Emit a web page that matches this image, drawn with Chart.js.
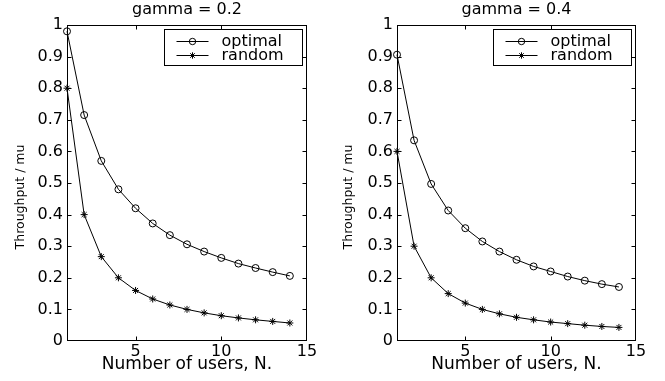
<!DOCTYPE html>
<html><head><meta charset="utf-8">
<script src="https://cdn.jsdelivr.net/npm/chart.js@4"></script>
<style>
html,body{margin:0;padding:0;background:#fff;}
#wrap{position:relative;width:665px;height:381px;overflow:hidden;background:#fff;}
#c1{position:absolute;left:0;top:0;}
#c2{position:absolute;left:335px;top:0;}
</style></head><body>
<div id="wrap"><canvas id="c1" width="335" height="381"></canvas><canvas id="c2" width="330" height="381"></canvas></div>
<script>
// ---- data ----
const users = [1,2,3,4,5,6,7,8,9,10,11,12,13,14];
const optimalG02 = [0.980,0.715,0.570,0.480,0.420,0.372,0.335,0.306,0.283,0.263,0.245,0.231,0.218,0.206];
const randomG02  = [0.800,0.400,0.267,0.200,0.160,0.133,0.114,0.100,0.089,0.080,0.073,0.067,0.062,0.057];
const optimalG04 = [0.906,0.635,0.497,0.413,0.357,0.315,0.283,0.257,0.236,0.220,0.204,0.191,0.180,0.171];
const randomG04  = [0.600,0.300,0.200,0.150,0.120,0.100,0.086,0.075,0.067,0.060,0.055,0.050,0.046,0.043];
const panelTitles = ['gamma = 0.2','gamma = 0.4'];
const seriesLabels = ['optimal','random'];
const xTicks = [5,10,15];
const xTickLabels = ['5','10','15'];
const yTicks = [0,0.1,0.2,0.3,0.4,0.5,0.6,0.7,0.8,0.9,1];
const yTickLabels = ['0','0.1','0.2','0.3','0.4','0.5','0.6','0.7','0.8','0.9','1'];
const xTitle = 'Number of users, N.';
const yTitle = 'Throughput / mu';

Chart.defaults.font.family = "'DejaVu Sans', sans-serif";
Chart.defaults.color = '#000';

function drawMarker(ctx, style, r, x, y) {
  ctx.save();
  ctx.strokeStyle = '#000'; ctx.lineWidth = 1;
  ctx.beginPath();
  if (style === 'circle') {
    ctx.arc(x, y, r, 0, Math.PI * 2);
  } else {
    for (let k = 0; k < 4; k++) {
      const a = k * Math.PI / 4;
      ctx.moveTo(x - Math.sin(a) * r, y - Math.cos(a) * r);
      ctx.lineTo(x + Math.sin(a) * r, y + Math.cos(a) * r);
    }
  }
  ctx.stroke();
  ctx.restore();
}

const framePlugin = {
  id: 'frame',
  afterDraw(chart, args, opts) {
    const ctx = chart.ctx;
    const a = chart.chartArea;
    const L = Math.round(a.left) + 0.5, R = Math.round(a.right) - 0.5;
    const T = Math.round(a.top) + 0.5, B = Math.round(a.bottom) - 0.5;
    ctx.save();
    ctx.strokeStyle = '#000'; ctx.lineWidth = 1;
    ctx.strokeRect(L, T, R - L, B - T);
    const tl = 4;
    ctx.beginPath();
    xTicks.forEach(v => {
      const px = Math.round(chart.scales.x.getPixelForValue(v)) + 0.5;
      if (px > L + 1 && px < R - 1) {
        ctx.moveTo(px, B); ctx.lineTo(px, B - tl);
        ctx.moveTo(px, T); ctx.lineTo(px, T + tl);
      }
    });
    yTicks.forEach(v => {
      const py = Math.round(chart.scales.y.getPixelForValue(v)) + 0.5;
      if (py > T + 1 && py < B - 1) {
        ctx.moveTo(L, py); ctx.lineTo(L + tl, py);
        ctx.moveTo(R, py); ctx.lineTo(R - tl, py);
      }
    });
    ctx.stroke();
    // y axis title
    ctx.save();
    ctx.translate(opts.yTitleX, opts.yTitleY);
    ctx.rotate(-Math.PI / 2);
    ctx.font = "12.5px 'DejaVu Sans', sans-serif";
    ctx.fillStyle = '#000';
    ctx.textAlign = 'center';
    ctx.textBaseline = 'middle';
    ctx.fillText(yTitle, 0, 0);
    ctx.restore();
    // legend
    const bw = 138, bh = 36;
    const bx = Math.round(a.right) - 5 - bw + 0.5;
    const by = Math.round(a.top) + 4 + 0.5;
    ctx.fillStyle = '#fff';
    ctx.fillRect(bx, by, bw, bh);
    ctx.strokeRect(bx, by, bw, bh);
    ctx.font = "16px 'DejaVu Sans', sans-serif";
    ctx.fillStyle = '#000';
    ctx.textBaseline = 'middle';
    ctx.textAlign = 'left';
    chart.data.datasets.forEach((ds, i) => {
      const cy = Math.round(by + 11 + i * 14.5) + 0.5;
      ctx.beginPath();
      ctx.moveTo(bx + 12, cy); ctx.lineTo(bx + 44, cy);
      ctx.stroke();
      drawMarker(ctx, ds.pointStyle, 3.2, bx + 28, cy);
      ctx.fillText(ds.label, bx + 57, cy);
    });
    ctx.restore();
  }
};

function makeChart(id, title, opt, rnd, axisW, padRight, yTitleX) {
  const mk = (label, vals, style) => ({
    label: label,
    data: users.map((u, i) => ({x: u, y: vals[i]})),
    borderColor: '#000', borderWidth: 1, fill: false, tension: 0,
    pointStyle: style, pointRadius: 3.5, pointBorderWidth: 1,
    pointBorderColor: '#000', pointBackgroundColor: 'rgba(0,0,0,0)',
    clip: false
  });
  return new Chart(document.getElementById(id), {
    type: 'line',
    data: { datasets: [mk(seriesLabels[0], opt, 'circle'), mk(seriesLabels[1], rnd, 'star')] },
    options: {
      responsive: false, animation: false, devicePixelRatio: 1,
      layout: { padding: { left: 0, right: padRight, top: 0, bottom: 0 } },
      plugins: {
        legend: { display: false }, tooltip: { enabled: false },
        title: { display: true, text: title, fullSize: false, color: '#000',
          font: { size: 16, weight: 'normal' }, padding: { top: 0.5, bottom: 5.3 } },
        frame: { yTitleX: yTitleX, yTitleY: 197 }
      },
      scales: {
        x: {
          type: 'linear', min: 1, max: 15,
          grid: { display: false, drawTicks: false }, border: { display: false },
          afterBuildTicks: s => { s.ticks = xTicks.map(v => ({value: v})); },
          ticks: { padding: 1, font: { size: 16 }, maxRotation: 0,
            callback: (v) => xTickLabels[xTicks.indexOf(v)] },
          title: { display: true, text: xTitle, font: { size: 17 }, padding: { top: 0, bottom: 5.8 } },
          afterFit: s => { s.height = 40; }
        },
        y: {
          min: 0, max: 1,
          grid: { display: false, drawTicks: false }, border: { display: false },
          afterBuildTicks: s => { s.ticks = yTicks.map(v => ({value: v})); },
          ticks: { padding: 4, font: { size: 16 },
            callback: (v) => yTickLabels[yTicks.findIndex(t => Math.abs(t - v) < 1e-9)] },
          afterFit: s => { s.width = axisW; }
        }
      }
    },
    plugins: [framePlugin]
  });
}

makeChart('c1', panelTitles[0], optimalG02, randomG02, 67, 28, 21);
makeChart('c2', panelTitles[1], optimalG04, randomG04, 62, 29, 14);
</script>
</body></html>
